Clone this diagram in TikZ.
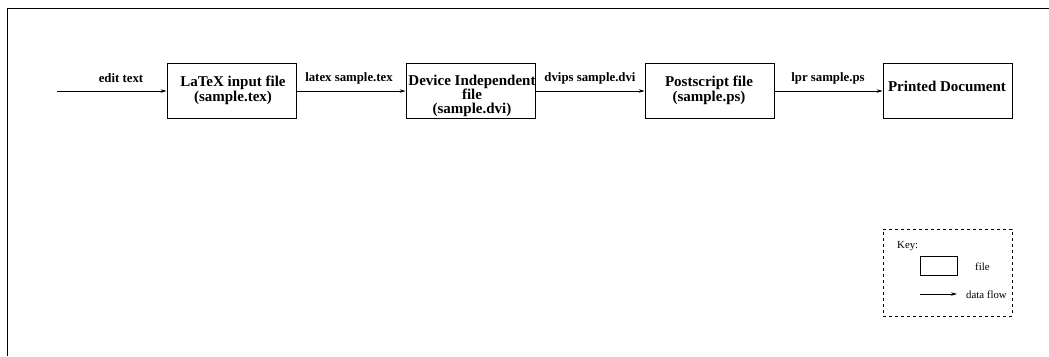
\documentclass[tikz,border=0pt]{standalone}
\usepackage{fontspec}
\setmainfont{Liberation Serif}
\usetikzlibrary{arrows.meta}
\begin{document}
\begin{tikzpicture}[x=1pt,y=-1pt,
  filebox/.style={draw,line width=0.8pt,minimum width=129pt,minimum height=55pt,inner sep=0pt},
  boxtext/.style={font=\bfseries\fontsize{15}{15}\selectfont,align=center,inner sep=0pt},
  flowlbl/.style={font=\bfseries\fontsize{12.8}{14}\selectfont,inner sep=0pt},
  flow/.style={line width=0.7pt,-{Stealth[length=6pt,width=3.5pt,inset=2pt]}},
  keytext/.style={font=\fontsize{10.8}{12}\selectfont,inner sep=0pt}]
\useasboundingbox (0,0) rectangle (1049,356);
% partial frame along top and left
\draw[line width=1pt] (7,356) -- (7,8.5) -- (1049,8.5);

% file boxes
\node[filebox] (tex) at (231.5,90.5) {};
\node[filebox] (dvi) at (470.5,90.5) {};
\node[filebox] (ps)  at (709.5,90.5) {};
\node[filebox] (doc) at (947.5,90.5) {};

\node[boxtext] (textex) at (233,90) {LaTeX input file\\(sample.tex)};
\node[boxtext,font=\bfseries\fontsize{15}{14}\selectfont] (textdvi) at (472,96) {Device Independent\\file\\(sample.dvi)};
\node[boxtext] (textps) at (709,90) {Postscript file\\(sample.ps)};
\node[boxtext] (textdoc) at (947,86) {Printed Document};

% data flow
\coordinate (start) at (57,91);
\draw[flow] (start) -- (tex.west |- start);
\draw[flow] (tex.east |- start) -- (dvi.west |- start);
\draw[flow] (dvi.east |- start) -- (ps.west |- start);
\draw[flow] (ps.east |- start) -- (doc.west |- start);

\node[flowlbl] (l1) at (121,78) {edit text};
\node[flowlbl] (l2) at (349,78) {latex sample.tex};
\node[flowlbl] (l3) at (590,78) {dvips sample.dvi};
\node[flowlbl] (l4) at (828,78) {lpr sample.ps};

% key
\node[draw,dashed,line width=0.7pt,minimum width=129pt,minimum height=87pt,inner sep=0pt] (key) at (947.5,272.5) {};
\node[keytext,anchor=west] (keylbl) at (897,246) {Key:};
\node[draw,line width=0.7pt,minimum width=37pt,minimum height=19pt,inner sep=0pt] (keybox) at (938.5,266) {};
\node[keytext,anchor=west] (keyfile) at (975,267) {file};
\coordinate (ka) at (920,294);
\coordinate (kb) at (957,294);
\draw[flow] (ka) -- (kb);
\node[keytext,anchor=west] (keyflow) at (966,295) {data flow};
\end{tikzpicture}
\end{document}
